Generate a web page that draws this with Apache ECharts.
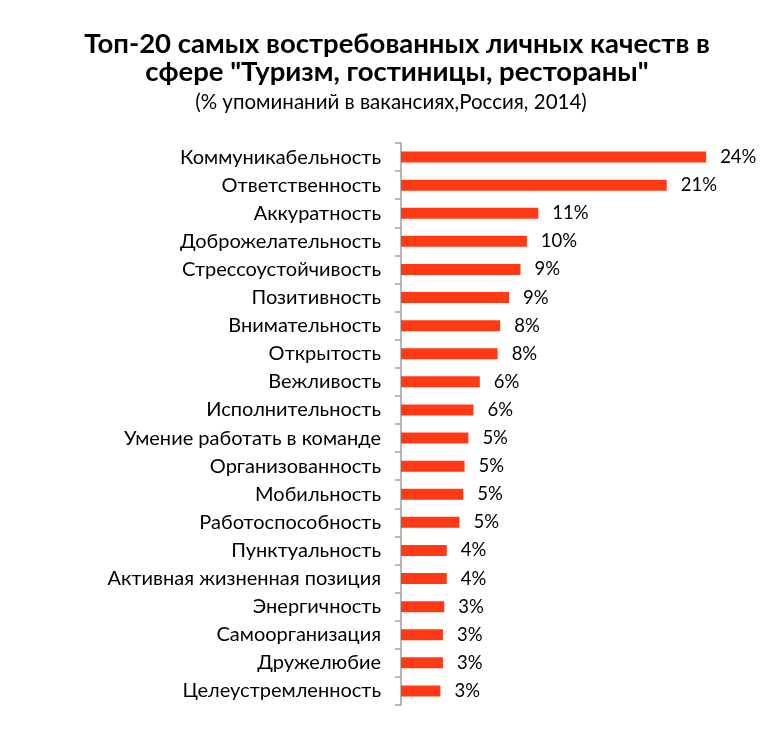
<!DOCTYPE html>
<html>
<head>
<meta charset="utf-8">
<script src="https://cdn.jsdelivr.net/npm/echarts@6/dist/echarts.min.js"></script>
<style>
  html, body { margin: 0; padding: 0; background: #fff; }
  #chart { width: 782px; height: 733px; }
</style>
</head>
<body>
<div id="chart"></div>
<script>
const categories = [
    'Коммуникабельность',
    'Ответственность',
    'Аккуратность',
    'Доброжелательность',
    'Стрессоустойчивость',
    'Позитивность',
    'Внимательность',
    'Открытость',
    'Вежливость',
    'Исполнительность',
    'Умение работать в команде',
    'Организованность',
    'Мобильность',
    'Работоспособность',
    'Пунктуальность',
    'Активная жизненная позиция',
    'Энергичность',
    'Самоорганизация',
    'Дружелюбие',
    'Целеустремленность'
];
const values = [24.0, 20.9, 10.8, 9.9, 9.4, 8.5, 7.8, 7.6, 6.2, 5.7, 5.3, 5.0, 4.9, 4.6, 3.6, 3.6, 3.4, 3.3, 3.3, 3.1];

const font = 'Lato';
const chart = echarts.init(document.getElementById('chart'));

chart.setOption({
    animation: false,
    title: [{
        text: 'Топ-20 самых востребованных личных качеств в\nсфере "Туризм, гостиницы, рестораны"',
        left: 392,
        top: 25,
        textAlign: 'center',
        textStyle: { fontFamily: font, fontSize: 27.5, fontWeight: 'bold', color: '#000', lineHeight: 28 }
    }, {
        text: '(% упоминаний в вакансиях,Россия, 2014)',
        left: 386,
        top: 87,
        textAlign: 'center',
        textStyle: { fontFamily: font, fontSize: 20.5, fontWeight: 'normal', color: '#000' }
    }],
    grid: { left: 401, right: 25, top: 143, bottom: 28, containLabel: false },
    xAxis: {
        type: 'value',
        min: 0,
        max: 28,
        show: false
    },
    yAxis: {
        type: 'category',
        inverse: true,
        data: categories,
        axisLine: { show: true, lineStyle: { color: '#a0a0a0', width: 1.5 } },
        axisTick: { show: true, length: 6, lineStyle: { color: '#a0a0a0', width: 1.5 } },
        axisLabel: { margin: 20, fontFamily: font, fontSize: 20, color: '#000' }
    },
    series: [{
        type: 'bar',
        data: values,
        barWidth: 11,
        itemStyle: { color: '#FF3A14' },
        label: {
            show: true,
            position: 'right',
            distance: 14,
            fontFamily: font,
            fontSize: 18.5,
            color: '#000',
            formatter: p => Math.round(p.value) + '%'
        }
    }]
});
</script>
</body>
</html>
